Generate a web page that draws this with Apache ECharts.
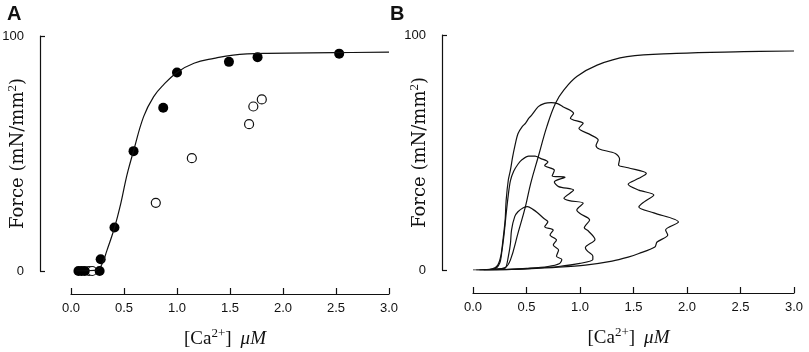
<!DOCTYPE html>
<html>
<head>
<meta charset="utf-8">
<script src="https://cdn.jsdelivr.net/npm/echarts@6/dist/echarts.min.js"></script>
<style>
  html, body { margin: 0; padding: 0; background: #fff; }
  #chart { width: 809px; height: 352px; }
</style>
</head>
<body>
<div id="chart"></div>
<script>
// panel A: steady-state force vs [Ca2+]
const filledA = [[0.07, 0], [0.10, 0], [0.13, 0], [0.27, 0], [0.28, 5], [0.41, 18.5], [0.59, 51], [0.87, 69.5], [1.00, 84.5], [1.49, 89], [1.76, 91], [2.53, 92.5]];
const openA = [[0.17, 0], [0.20, 0], [0.80, 29], [1.14, 48], [1.68, 62.5], [1.72, 70], [1.80, 73]];
const fitA = [[0.05, 0], [0.22, 0.3], [0.28, 1.8], [0.34, 8.9], [0.41, 18.4], [0.47, 28.8], [0.51, 37.3], [0.54, 43], [0.59, 51.1], [0.685, 65.7], [0.78, 74.2], [0.87, 79.1], [1.00, 84.5], [1.16, 88.4], [1.35, 90.5], [1.53, 91.9], [1.85, 92.6], [2.48, 92.9], [3.0, 93.1]];

// panel B: steady-state curve and three dynamic loops
const curveB = [[0.0, 0], [0.2, 0.3], [0.3, 1], [0.35, 4.3], [0.42, 15.6], [0.49, 27], [0.54, 37], [0.61, 48.2], [0.69, 61], [0.77, 70.9], [0.85, 76.6], [0.97, 82.3], [1.16, 87.2], [1.44, 90.8], [1.90, 92.2], [2.53, 92.9], [3.0, 93.2]];
const loop1 = [[0.05, 0], [0.18, 0.5], [0.23, 2], [0.26, 6], [0.28, 12.8], [0.30, 21], [0.31, 29.8], [0.33, 38.3], [0.35, 42.6], [0.37, 48], [0.39, 52.5], [0.42, 58], [0.46, 61], [0.49, 62.4], [0.52, 64.5], [0.55, 66], [0.61, 69.5], [0.67, 70.9], [0.73, 71.2], [0.79, 70.8], [0.84, 69.5], [0.94, 66.7], [0.91, 64.6], [1.03, 62.4], [0.99, 60.3], [1.10, 57.5], [1.17, 55.3], [1.15, 53], [1.18, 51.5], [1.33, 49.6], [1.37, 47.2], [1.36, 44.7], [1.45, 43.5], [1.62, 41.1], [1.55, 39], [1.45, 36.5], [1.55, 34], [1.69, 31.9], [1.60, 29], [1.55, 26.8], [1.69, 24.3], [1.92, 20.4], [1.80, 17], [1.82, 14.9], [1.72, 11.9], [1.70, 9.8], [1.55, 7], [1.45, 5.5], [1.30, 3.8], [1.05, 2.1], [0.80, 1.2], [0.50, 0.5], [0.25, 0.1], [0.03, 0]];
const loop2 = [[0.06, 0], [0.2, 0.5], [0.25, 3], [0.27, 8], [0.29, 15], [0.31, 24], [0.33, 32], [0.35, 38], [0.38, 42], [0.42, 45], [0.46, 47], [0.52, 48.5], [0.58, 48.5], [0.63, 47.5], [0.70, 46], [0.67, 44.5], [0.76, 42.5], [0.74, 40], [0.86, 39.5], [0.76, 37.5], [0.80, 35.5], [0.94, 34], [0.85, 30.5], [0.90, 29.5], [1.03, 28.4], [0.97, 25.5], [1.00, 24], [1.09, 21.3], [1.04, 18], [1.08, 16.5], [1.14, 13], [1.05, 9.5], [1.07, 8], [1.12, 6], [1.12, 4.5], [1.00, 2.8], [0.80, 1.5], [0.55, 0.7], [0.30, 0.2], [0.06, 0]];
const loop3 = [[0.10, 0], [0.25, 0.5], [0.30, 0.7], [0.33, 5.7], [0.35, 11.3], [0.36, 17], [0.39, 22.7], [0.42, 24.8], [0.47, 26.5], [0.51, 27], [0.56, 25.8], [0.60, 24.5], [0.66, 22], [0.70, 20.5], [0.67, 18.4], [0.75, 17], [0.72, 14.9], [0.78, 12.8], [0.75, 10.6], [0.80, 8.5], [0.78, 5.8], [0.83, 4.5], [0.81, 2.8], [0.70, 1.5], [0.50, 0.7], [0.30, 0.2], [0.10, 0]];

const xTicks = [0, 3, 0.5];
const yTicks = [0, 100, 100];

const ink = '#111';

const nameRich = {
    n: { fontFamily: 'DejaVu Serif', fontSize: 18, color: ink },
    c: { fontFamily: 'Liberation Serif', fontSize: 19, color: ink },
    s: { fontFamily: 'Liberation Serif', fontSize: 13, color: ink, padding: [0, 0, 11, 0] },
    i: { fontFamily: 'Liberation Serif', fontSize: 19, fontStyle: 'italic', color: ink, padding: [0, 0, 0, 9] }
};

function makeX(gridIndex) {
    return {
        type: 'value', gridIndex: gridIndex,
        min: xTicks[0], max: xTicks[1], interval: xTicks[2],
        offset: 23,
        axisLine: { show: true, onZero: false, lineStyle: { color: ink, width: 1.2 } },
        axisTick: { show: true, inside: true, length: 6, lineStyle: { color: ink, width: 1.2 } },
        axisLabel: { color: ink, fontFamily: 'Liberation Sans', fontSize: 13, margin: 8,
            formatter: function (v) { return v.toFixed(1); } },
        splitLine: { show: false },
        name: '{c|[Ca}{s|2+}{c|]}{i|μM}',
        nameLocation: 'middle', nameGap: 33, nameMoveOverlap: false,
        nameTextStyle: { rich: nameRich, padding: [0, 10, 0, 0] }
    };
}

function makeY(gridIndex) {
    return {
        type: 'value', gridIndex: gridIndex,
        min: yTicks[0], max: yTicks[1], interval: yTicks[2],
        offset: 31,
        axisLine: { show: true, onZero: false, lineStyle: { color: ink, width: 1.2 } },
        axisTick: { show: true, inside: true, length: 5, lineStyle: { color: ink, width: 1.2 } },
        axisLabel: { color: ink, fontFamily: 'Liberation Sans', fontSize: 13, margin: 16 },
        splitLine: { show: false },
        name: '{n|Force (mN/mm}{s|2}{n|)}',
        nameLocation: 'middle', nameGap: 10, nameRotate: 90, nameMoveOverlap: false,
        nameTextStyle: { rich: nameRich }
    };
}

function line(data, xi, smooth) {
    return {
        type: 'line', data: data, xAxisIndex: xi, yAxisIndex: xi,
        showSymbol: false, smooth: smooth, silent: true,
        lineStyle: { color: ink, width: 1.2 }
    };
}

const chart = echarts.init(document.getElementById('chart'));
chart.setOption({
    animation: false,
    title: [
        { text: 'A', left: 7, top: 4, padding: 0, textStyle: { fontFamily: 'Liberation Sans', fontWeight: 'bold', fontSize: 20, color: ink } },
        { text: 'B', left: 390, top: 4, padding: 0, textStyle: { fontFamily: 'Liberation Sans', fontWeight: 'bold', fontSize: 20, color: ink } }
    ],
    grid: [
        { left: 71, right: 420, top: 36, bottom: 81, outerBoundsMode: 'none' },
        { left: 473, right: 15, top: 35, bottom: 82, outerBoundsMode: 'none' }
    ],
    xAxis: [makeX(0), makeX(1)],
    yAxis: [makeY(0), makeY(1)],
    series: [
        line(fitA, 0, 0.4),
        {
            type: 'scatter', data: openA, xAxisIndex: 0, yAxisIndex: 0,
            symbol: 'circle', symbolSize: 9,
            itemStyle: { color: '#fff', borderColor: ink, borderWidth: 1.2, opacity: 1 }
        },
        {
            type: 'scatter', data: filledA, xAxisIndex: 0, yAxisIndex: 0,
            symbol: 'circle', symbolSize: 10,
            itemStyle: { color: '#000', opacity: 1 }
        },
        line(curveB, 1, 0.4),
        line(loop1, 1, 0.3),
        line(loop2, 1, 0.3),
        line(loop3, 1, 0.3)
    ]
});
</script>
</body>
</html>
